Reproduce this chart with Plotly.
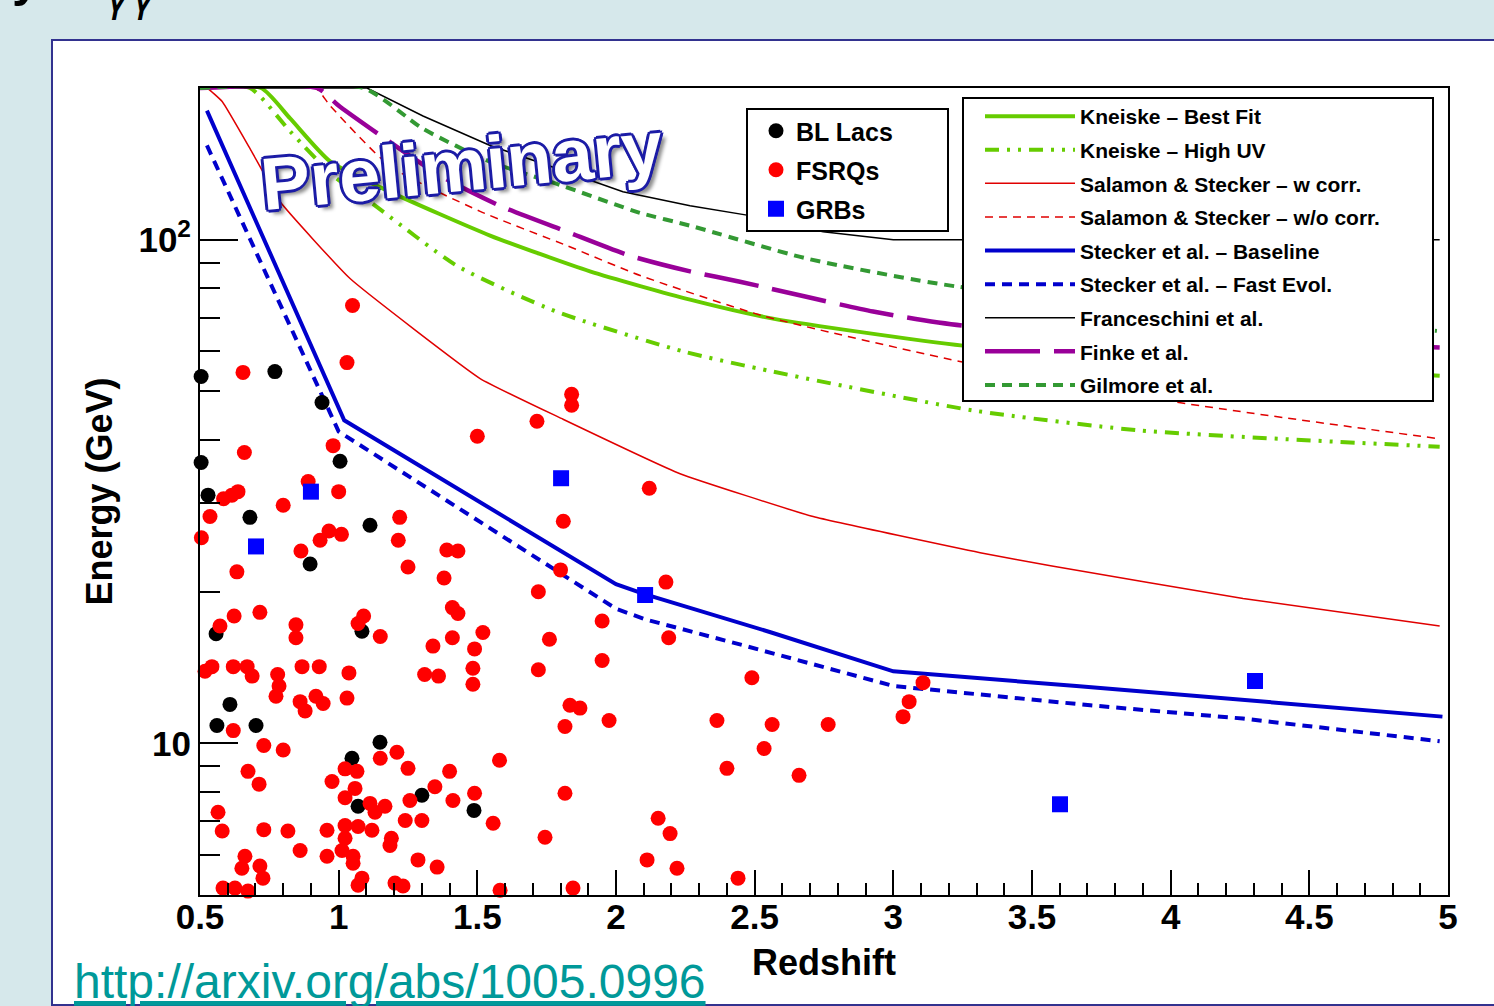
import plotly.graph_objects as go

FONT = "Liberation Sans, Arial, Helvetica, sans-serif"

# ---------------- data (redshift, energy in GeV) ----------------
bl_z = [0.504, 0.770, 0.940, 0.504, 1.005, 0.529, 0.680, 1.113, 0.897, 0.558,
        1.084, 0.608, 0.561, 0.702, 1.048, 1.149, 1.070, 1.300, 1.488]
bl_E = [53.5, 54.7, 47.5, 36.1, 36.3, 31.1, 28.1, 27.1, 22.7, 16.5,
        16.7, 11.95, 10.85, 10.85, 9.34, 10.05, 7.50, 7.89, 7.36]

fsrq_z = [1.05, 1.03, 0.655, 1.84, 1.84, 1.715, 1.50, 0.66, 0.98, 0.89,
          1.00, 0.585, 0.615, 0.637, 0.536, 0.80, 1.22, 1.81, 2.12, 0.505,
          0.864, 0.933, 0.965, 1.01, 1.215, 1.39, 1.43, 1.25, 1.38, 1.80,
          0.633, 1.72, 1.95, 2.18, 2.19, 1.76, 0.716, 0.623, 0.572, 0.846,
          0.846, 1.09, 1.07, 1.15, 1.41, 1.43, 1.34, 1.41, 1.52, 1.49,
          0.518, 0.543, 0.62, 0.67, 0.688, 0.78, 0.785, 0.774, 0.868, 0.93,
          1.037, 1.31, 1.36, 1.484, 1.484, 1.72, 1.95, 0.861, 0.879, 0.918,
          0.944, 1.03, 0.62, 0.73, 0.80, 1.834, 1.87, 1.816, 1.975, 0.673,
          0.713, 0.976, 1.023, 1.066, 1.059, 1.15, 1.21, 1.25, 1.40, 1.347,
          1.023, 1.113, 1.131, 1.167, 1.257, 1.412, 1.49, 1.24, 1.30, 0.565,
          0.58, 0.73, 0.817, 0.861, 0.958, 0.958, 1.023, 1.023, 1.07, 1.12,
          1.012, 1.052, 1.052, 1.19, 1.185, 1.286, 1.355, 1.557, 1.58, 1.816,
          1.744, 0.662, 0.651, 0.716, 0.727, 0.583, 0.626, 0.673, 1.084, 1.07,
          1.203, 1.232, 1.582, 1.845, 2.112, 2.152, 2.195, 2.22, 2.364, 2.49,
          2.563, 2.765, 2.534, 2.40, 2.66, 2.44, 3.107, 3.057, 3.035]
fsrq_E = [74.0, 57.0, 54.5, 49.3, 46.9, 43.6, 40.7, 37.8, 39.0, 33.1,
          31.6, 30.6, 31.1, 31.6, 28.2, 29.7, 28.1, 27.6, 32.1, 25.6,
          24.1, 25.3, 26.4, 26.0, 25.3, 24.2, 24.1, 22.4, 21.3, 22.1,
          21.9, 20.0, 17.5, 20.9, 16.2, 16.1, 18.2, 17.9, 17.1, 17.2,
          16.2, 17.9, 17.3, 16.3, 18.6, 18.1, 15.6, 16.2, 16.6, 15.4,
          13.9, 14.2, 14.2, 14.2, 13.6, 13.7, 13.0, 12.4, 14.2, 14.2,
          13.8, 13.7, 13.6, 14.1, 13.1, 14.0, 14.6, 12.1, 11.6, 12.4,
          12.0, 12.3, 10.6, 9.9, 9.7, 11.9, 11.75, 10.8, 11.1, 8.8,
          8.3, 8.4, 8.9, 8.8, 8.14, 9.34, 9.6, 8.92, 8.8, 8.2,
          7.8, 7.6, 7.3, 7.5, 7.7, 7.7, 7.96, 7.03, 7.03, 7.3,
          6.7, 6.74, 6.7, 6.13, 6.72, 5.97, 6.87, 6.48, 6.84, 6.72,
          6.13, 5.97, 5.78, 6.48, 6.27, 5.87, 5.68, 6.94, 9.26, 7.96,
          6.51, 5.97, 5.65, 5.71, 5.40, 5.16, 5.16, 5.09, 5.40, 5.23,
          5.28, 5.21, 5.11, 5.16, 5.87, 7.10, 6.62, 5.65, 11.1, 13.5,
          10.9, 10.9, 9.77, 8.92, 8.64, 5.40, 13.2, 12.1, 11.3]

grb_z = [0.702, 0.900, 1.802, 2.105, 4.304, 3.601]
grb_E = [24.6, 31.6, 33.6, 19.7, 13.3, 7.57]

# EBL model curves (tau = 1 horizon), clipped at 200 GeV at low z
kn_best_z = [0.5, 0.72, 0.825, 0.969, 1.185, 1.546, 1.906, 2.267, 2.566, 3.251, 4.0, 4.97]
kn_best_E = [200, 200, 174, 143, 124.4, 101.9, 86.5, 76.0, 69.7, 61.6, 57.4, 53.7]
kn_uv_z = [0.5, 0.68, 0.825, 0.98, 1.113, 1.427, 1.787, 2.242, 2.566, 3.288, 3.89, 4.97]
kn_uv_E = [200, 200, 164, 134, 118.9, 88.7, 71.9, 60.0, 54.7, 45.8, 41.8, 38.8]
ss_w_z = [0.5, 0.525, 0.58, 0.685, 0.789, 1.041, 1.51, 1.809, 2.231, 2.711, 3.313, 3.572, 4.261, 4.97]
ss_w_E = [200, 200, 188, 150, 118.9, 83.7, 53.0, 44.0, 34.3, 28.2, 23.9, 22.5, 19.4, 17.1]
ss_wo_z = [0.5, 0.915, 0.969, 1.185, 1.51, 1.823, 2.087, 2.53, 3.24, 4.009, 4.96]
ss_wo_E = [200, 200, 184.5, 140, 113.8, 97.3, 84.9, 70.6, 57.3, 47.7, 40.3]
st_base_z = [0.525, 1.02, 2.0, 2.10, 2.56, 3.0, 3.66, 4.26, 4.98]
st_base_E = [180.3, 43.8, 20.7, 19.8, 16.6, 13.9, 13.0, 12.2, 11.3]
st_fast_z = [0.525, 1.0, 2.0, 2.11, 2.45, 3.0, 3.71, 4.26, 4.97]
st_fast_E = [153.8, 41.6, 18.5, 17.6, 15.7, 13.0, 11.9, 11.2, 10.1]
franc_z = [0.5, 1.102, 1.304, 1.546, 1.787, 2.025, 2.267, 2.483, 2.747, 3.0, 4.97]
franc_E = [200, 200, 176, 153.8, 138.4, 124.5, 116.7, 111.6, 103.7, 100, 100]
finke_z = [0.5, 0.922, 1.005, 1.365, 1.582, 1.823, 2.051, 2.267, 2.447, 2.927, 3.251, 4.97]
finke_E = [200, 200, 183.6, 134, 116.7, 103.7, 92.9, 86.5, 82.5, 72.0, 67.5, 61.1]
gilm_z = [0.5, 1.088, 1.304, 1.546, 1.787, 2.087, 2.267, 2.689, 3.23, 4.96]
gilm_E = [200, 200, 166, 142.8, 129, 113, 106.6, 91.7, 80.7, 65.9]

x_ticks = [0.5, 1, 1.5, 2, 2.5, 3, 3.5, 4, 4.5, 5]
x_ticktext = ["0.5", "1", "1.5", "2", "2.5", "3", "3.5", "4", "4.5", "5"]
y_ticks = [10, 100]
y_ticktext = ["10", "10<sup>2</sup>"]
y_minor = [5, 6, 7, 8, 9, 20, 30, 40, 50, 60, 70, 80, 90, 200]

# ---------------- layout geometry ----------------
W, H = 1494, 1006
L, R, T, B = 200, 46, 88, 111
PW, PH = W - L - R, H - T - B


def pxx(x):
    return (x - L) / PW


def pyy(y):
    return (H - B - y) / PH


fig = go.Figure()

lines = [
    (kn_best_z, kn_best_E, "Kneiske \u2013 Best Fit", "#66cc00", 4, "solid", 0.6),
    (kn_uv_z, kn_uv_E, "Kneiske \u2013 High UV", "#66cc00", 4, "14px,8px,3px,8px,3px,8px", 0.6),
    (ss_w_z, ss_w_E, "Salamon & Stecker \u2013 w corr.", "#e00000", 1.5, "solid", 0.35),
    (ss_wo_z, ss_wo_E, "Salamon & Stecker \u2013 w/o corr.", "#e00000", 1.5, "8px,6px", 0.6),
    (st_base_z, st_base_E, "Stecker et al. \u2013 Baseline", "#0000cc", 4, "solid", 0),
    (st_fast_z, st_fast_E, "Stecker et al. \u2013 Fast Evol.", "#0000cc", 4, "10px,7px", 0),
    (franc_z, franc_E, "Franceschini et al.", "#000000", 1.5, "solid", 0),
    (finke_z, finke_E, "Finke et al.", "#990099", 4.5, "55px,14px", 0.6),
    (gilm_z, gilm_E, "Gilmore et al.", "#339933", 4, "10px,7px", 0.6),
]
for z, e, name, col, w, dash, smooth in lines:
    ln = dict(color=col, width=w, dash=dash, shape="spline" if smooth > 0 else "linear")
    if smooth > 0:
        ln["smoothing"] = smooth
    fig.add_trace(go.Scatter(x=z, y=e, mode="lines", name=name, line=ln,
                             legend="legend2", legendgroup=name, hoverinfo="skip"))

for z, e, name, col, sym, size in [
    (bl_z, bl_E, "BL Lacs", "#000000", "circle", 15),
    (fsrq_z, fsrq_E, "FSRQs", "#ff0000", "circle", 15),
    (grb_z, grb_E, "GRBs", "#0000ff", "square", 16),
]:
    fig.add_trace(go.Scatter(x=z, y=e, mode="markers", name=name, cliponaxis=False,
                             marker=dict(color=col, symbol=sym, size=size, line=dict(width=0)),
                             legend="legend", legendgroup=name, hoverinfo="skip"))

shapes = [
    # slide panel
    dict(type="rect", xref="paper", yref="paper", x0=pxx(52), x1=pxx(1530), y0=pyy(1005), y1=pyy(40),
         fillcolor="white", line=dict(color="#32328f", width=2), layer="below"),
    # legend boxes
    dict(type="rect", xref="paper", yref="paper", x0=pxx(747), x1=pxx(948), y0=pyy(231), y1=pyy(109),
         fillcolor="white", line=dict(color="black", width=2), layer="above"),
    dict(type="rect", xref="paper", yref="paper", x0=pxx(963), x1=pxx(1433), y0=pyy(401), y1=pyy(98),
         fillcolor="white", line=dict(color="black", width=2), layer="above"),
]

outline = "#1c1ca6"
shadow = ", ".join([f"{dx}px {dy}px 0 {outline}" for dx, dy in
                    [(-2, -2), (2, -2), (-2, 2), (2, 2), (0, -3), (0, 3), (-3, 0), (3, 0)]]
                   + ["5px 5px 4px rgba(0,0,0,0.45)"])

annotations = [
    dict(text="Preliminary", xref="paper", yref="paper", x=pxx(461), y=pyy(165),
         xanchor="center", yanchor="middle", showarrow=False, textangle=-5.5,
         font=dict(family=FONT, size=74, color="white", weight="bold", shadow=shadow)),
    dict(text="<u>http://arxiv.org/abs/1005.0996</u>", xref="paper", yref="paper",
         x=pxx(72), y=pyy(1010), xanchor="left", yanchor="bottom", showarrow=False,
         font=dict(family=FONT, size=48, color="#009999")),
    # bottom edges of the slide title that is cut off above the picture
    dict(text="\u03b3\u03b3", xref="paper", yref="paper", x=pxx(131), y=pyy(23),
         xanchor="center", yanchor="bottom", showarrow=False,
         font=dict(family="DejaVu Sans", size=44, color="black", style="italic")),
    dict(text="y", xref="paper", yref="paper", x=pxx(26), y=pyy(9),
         xanchor="center", yanchor="bottom", showarrow=False,
         font=dict(family=FONT, size=50, color="black", weight="bold")),
]

fig.update_layout(
    width=W, height=H, autosize=False,
    margin=dict(l=L, r=R, t=T, b=B),
    paper_bgcolor="#d6e8eb", plot_bgcolor="white",
    font=dict(family=FONT, color="black"),
    shapes=shapes, annotations=annotations,
    showlegend=True,
    legend=dict(x=pxx(756), y=pyy(108), xanchor="left", yanchor="top",
                bgcolor="rgba(0,0,0,0)", borderwidth=0, traceorder="grouped",
                tracegroupgap=3.5, itemwidth=30,
                font=dict(family=FONT, size=25, color="black", weight="bold")),
    legend2=dict(x=pxx(980), y=pyy(96), xanchor="left", yanchor="top",
                 bgcolor="rgba(0,0,0,0)", borderwidth=0, traceorder="grouped",
                 tracegroupgap=3.3, itemwidth=90,
                 font=dict(family=FONT, size=21, color="black", weight="bold")),
    xaxis=dict(range=[0.5, 5], showgrid=False, zeroline=False,
               showline=True, mirror=True, linecolor="black", linewidth=2,
               tickmode="array", tickvals=x_ticks, ticktext=x_ticktext,
               ticks="inside", ticklen=25, tickwidth=1.5, tickcolor="black",
               ticklabelstandoff=-10,
               minor=dict(dtick=0.1, tick0=0.5, ticks="inside", ticklen=12,
                          tickwidth=1.5, tickcolor="black", showgrid=False),
               tickfont=dict(family=FONT, size=35, weight="bold"),
               title=dict(text="Redshift", font=dict(family=FONT, size=36, weight="bold"),
                          standoff=15)),
    yaxis=dict(type="log", range=[0.69897, 2.30103], showgrid=False, zeroline=False,
               showline=True, mirror=True, linecolor="black", linewidth=2,
               tickmode="array", tickvals=y_ticks, ticktext=y_ticktext,
               ticks="inside", ticklen=38, tickwidth=1.5, tickcolor="black",
               minor=dict(tickmode="array", tickvals=y_minor, ticks="inside", ticklen=20,
                          tickwidth=1.5, tickcolor="black", showgrid=False),
               tickfont=dict(family=FONT, size=35, weight="bold"),
               title=dict(text="Energy (GeV)", font=dict(family=FONT, size=36, weight="bold"),
                          standoff=15)),
)

fig.write_html("out.html", config={"displayModeBar": False},
               post_script="document.body.style.margin='0';document.body.style.overflow='hidden';")
